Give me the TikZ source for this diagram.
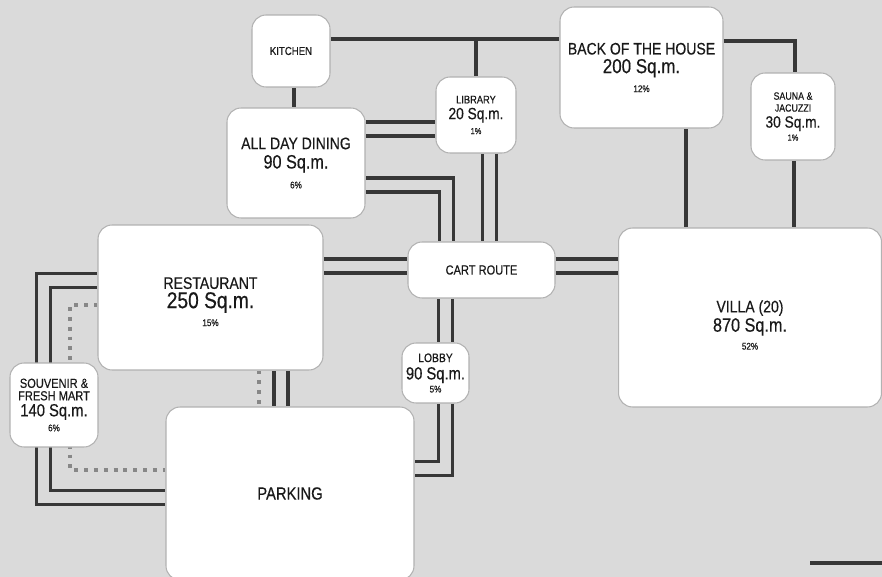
\documentclass[tikz,border=0pt]{standalone}
\usepackage{fontspec}
\setmainfont{Liberation Sans}[FakeStretch=0.84, FakeBold=0.4]
\usepackage{tikz}
\usetikzlibrary{positioning, calc, backgrounds}
\usepackage{xcolor}
\definecolor{bgcolor}{RGB}{218,218,218}
\definecolor{linkcolor}{RGB}{55,55,55}
\definecolor{walkcolor}{RGB}{135,135,135}
\newcommand{\fs}[1]{\fontsize{#1}{#1}\selectfont}

\begin{document}
\begin{tikzpicture}[
    x=0.02cm, y=-0.02cm,
    room/.style={rectangle, rounded corners=0.28cm, draw=gray!60, line width=0.6pt, fill=white, align=center, inner sep=1pt, text=black!90},
    link/.style={draw=linkcolor, line width=2.3pt},
    twin/.style={draw=linkcolor, line width=2.2pt, double=bgcolor, double distance=5.7pt},
    walk/.style={draw=walkcolor, line width=2.2pt, dash pattern=on 2.2pt off 3.4pt}
]
\useasboundingbox (0,0) rectangle (882,577);

\node[room, minimum width=1.56cm, minimum height=1.44cm] (kitchen) at (291,51) {\fs{6.5}KITCHEN};
\node[room, minimum width=2.76cm, minimum height=2.2cm] (dining) at (296,163) {\fs{9.5}ALL DAY DINING\\[-1pt]\fs{11}90 Sq.m.\\[-0.7pt]\fs{5.5}6\%};
\node[room, minimum width=1.6cm, minimum height=1.52cm] (library) at (476,115) {\fs{6.3}LIBRARY\\[-3pt]\fs{9.3}20 Sq.m.\\[-3.5pt]\fs{5}1\%};
\node[room, minimum width=3.26cm, minimum height=2.42cm] (boh) at (641.5,67.5) {\fs{9.5}BACK OF THE HOUSE\\[-1.4pt]\fs{11.5}200 Sq.m.\\[-1.2pt]\fs{5.5}12\%};
\node[room, minimum width=1.68cm, minimum height=1.74cm] (sauna) at (793,116.5) {\fs{6}SAUNA \&\\[-5.2pt]\fs{6}JACUZZI\\[-2.9pt]\fs{9.3}30 Sq.m.\\[-4.6pt]\fs{5}1\%};
\node[room, minimum width=4.5cm, minimum height=2.9cm] (restaurant) at (210.5,297.5) {\rule{0pt}{11.4pt}\fs{9.5}RESTAURANT\\[-1pt]\fs{13}250 Sq.m.\\[-1.8pt]\fs{5.5}15\%};
\node[room, minimum width=2.94cm, minimum height=1.12cm] (cart) at (481.5,270) {\fs{7.5}CART ROUTE};
\node[room, minimum width=5.26cm, minimum height=3.58cm] (villa) at (750,317.5) {\rule{0pt}{15.4pt}\fs{9.5}VILLA (20)\\[-1pt]\fs{11}870 Sq.m.\\[-1.8pt]\fs{5.5}52\%};
\node[room, minimum width=1.76cm, minimum height=1.68cm] (souvenir) at (54,405) {\fs{7.5}SOUVENIR \&\\[-4.9pt]\fs{7.5}FRESH MART\\[-2.9pt]\fs{10}140 Sq.m.\\[-3.5pt]\fs{5.5}6\%};
\node[room, minimum width=1.34cm, minimum height=1.2cm] (lobby) at (435.5,373) {\fs{7}LOBBY\\[-2.1pt]\fs{10}90 Sq.m.\\[-4.6pt]\fs{5.5}5\%};
\node[room, minimum width=4.96cm, minimum height=3.46cm] (parking) at (290,493.5) {\fs{10}PARKING};

\begin{scope}[on background layer]
\fill[bgcolor] (0,0) rectangle (882,577);
\draw[link] (kitchen.east |- 0,39) -- (boh.west |- 0,39);
\draw[link] (library.north) -- (library.north |- 0,39);
\draw[link] (kitchen.south -| 294,0) -- (dining.north -| 294,0);
\draw[link] (boh.east |- 0,41) -| (sauna.north -| 795,0);
\draw[link] (boh.south -| 686,0) -- (villa.north -| 686,0);
\draw[link] (sauna.south -| 794,0) -- (villa.north -| 794,0);
\draw[twin] (dining.east |- 0,129) -- (library.west |- 0,129);
\draw[twin] (dining.east |- 0,185) -| (cart.north -| 446.5,0);
\draw[twin] (library.south -| 489.5,0) -- (cart.north -| 489.5,0);
\draw[twin] (restaurant.east |- 0,266) -- (cart.west |- 0,266);
\draw[twin] (cart.east |- 0,266) -- (villa.west |- 0,266);
\draw[twin] (cart.south -| 445.5,0) -- (lobby.north -| 445.5,0);
\draw[twin] (lobby.south -| 445.5,0) |- (parking.east |- 0,468.5);
\draw[twin] (restaurant.south -| 281,0) -- (parking.north -| 281,0);
\draw[walk] (restaurant.south -| 259,0) -- (parking.north -| 259,0);
\draw[twin] (restaurant.west |- 0,280.5) -- (43.5,280.5) |- (parking.west |- 0,497.5);
\draw[walk] (restaurant.west |- 0,305) -- (70,305) |- (parking.west |- 0,470);
\draw[link] (810,563) -- (882,563);
\end{scope}
\end{tikzpicture}
\end{document}
